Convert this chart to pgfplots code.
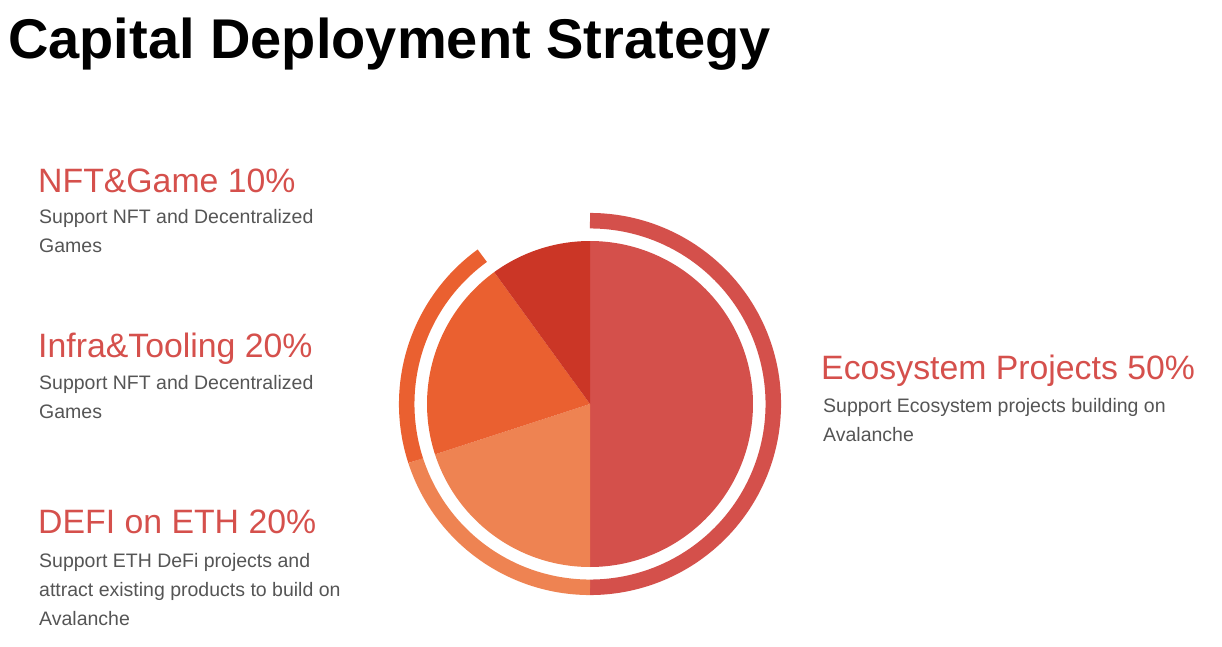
\documentclass[border=0pt]{standalone}
\usepackage{fontspec}
\setmainfont{Liberation Sans}
\usepackage{pgfplots}
\pgfplotsset{compat=1.18}
\definecolor{eco}{HTML}{D4504B}
\definecolor{defi}{HTML}{EE8352}
\definecolor{infra}{HTML}{EA6030}
\definecolor{nft}{HTML}{CB3626}
\definecolor{headred}{HTML}{D5504C}
\definecolor{desc}{HTML}{555555}
% shares (percent), clockwise from the top
\def\sEco{50}
\def\sDefi{20}
\def\sInfra{20}
\def\sNft{10}
\pgfmathsetmacro{\aA}{90}
\pgfmathsetmacro{\aB}{\aA-3.6*\sEco}
\pgfmathsetmacro{\aC}{\aB-3.6*\sDefi}
\pgfmathsetmacro{\aD}{\aC-3.6*\sInfra}
\pgfmathsetmacro{\aE}{\aD-3.6*\sNft}
\newcommand{\head}{\fontsize{33.8}{38}\selectfont}
\newcommand{\dsc}{\fontsize{19.5}{24}\selectfont}
\begin{document}
\begin{tikzpicture}
\path[use as bounding box] (0,0) rectangle (1222pt,646pt);
\begin{axis}[
  hide axis, scale only axis, width=400pt, height=400pt,
  xmin=-200, xmax=200, ymin=-200, ymax=200,
  at={(590pt,242pt)}, anchor=center, clip=false]
% wedges
\addplot[fill=eco, draw=none, domain=\aB:\aA, samples=120] ({163*cos(x)},{163*sin(x)}) -- (0,0) -- cycle;
\addplot[fill=defi, draw=none, domain=\aC:\aB, samples=60] ({163*cos(x)},{163*sin(x)}) -- (0,0) -- cycle;
\addplot[fill=infra, draw=none, domain=\aD:\aC, samples=60] ({163*cos(x)},{163*sin(x)}) -- (0,0) -- cycle;
\addplot[fill=nft, draw=none, domain=\aE:\aD, samples=40] ({163*cos(x)},{163*sin(x)}) -- (0,0) -- cycle;
% outer arcs
\addplot[draw=eco, line width=15.5pt, domain=\aB:\aA, samples=120] ({183.3*cos(x)},{183.3*sin(x)});
\addplot[draw=defi, line width=15.5pt, domain=\aC:\aB, samples=60] ({183.3*cos(x)},{183.3*sin(x)});
\addplot[draw=infra, line width=15.5pt, domain=\aD:\aC, samples=60] ({183.3*cos(x)},{183.3*sin(x)});
\end{axis}
% title
\node[anchor=base west, inner sep=0, font=\fontsize{56}{60}\selectfont\bfseries] at (8pt,587pt) {Capital Deployment Strategy};
% NFT
\node[anchor=base west, inner sep=0, text=headred, font=\head] at (38pt,453pt) {NFT\&Game 10\%};
\node[anchor=base west, inner sep=0, text=desc, font=\dsc] at (39pt,422pt) {Support NFT and Decentralized};
\node[anchor=base west, inner sep=0, text=desc, font=\dsc] at (39pt,393pt) {Games};
% Infra
\node[anchor=base west, inner sep=0, text=headred, font=\head] at (38pt,289pt) {Infra\&Tooling 20\%};
\node[anchor=base west, inner sep=0, text=desc, font=\dsc] at (39pt,257pt) {Support NFT and Decentralized};
\node[anchor=base west, inner sep=0, text=desc, font=\dsc] at (39pt,228pt) {Games};
% DEFI
\node[anchor=base west, inner sep=0, text=headred, font=\head] at (38pt,113pt) {DEFI on ETH 20\%};
\node[anchor=base west, inner sep=0, text=desc, font=\dsc] at (39pt,79pt) {Support ETH DeFi projects and};
\node[anchor=base west, inner sep=0, text=desc, font=\dsc] at (39pt,50pt) {attract existing products to build on};
\node[anchor=base west, inner sep=0, text=desc, font=\dsc] at (39pt,21pt) {Avalanche};
% Ecosystem
\node[anchor=base west, inner sep=0, text=headred, font=\head] at (821pt,267pt) {Ecosystem Projects 50\%};
\node[anchor=base west, inner sep=0, text=desc, font=\dsc] at (823pt,234pt) {Support Ecosystem projects building on};
\node[anchor=base west, inner sep=0, text=desc, font=\dsc] at (823pt,205pt) {Avalanche};
\end{tikzpicture}
\end{document}
